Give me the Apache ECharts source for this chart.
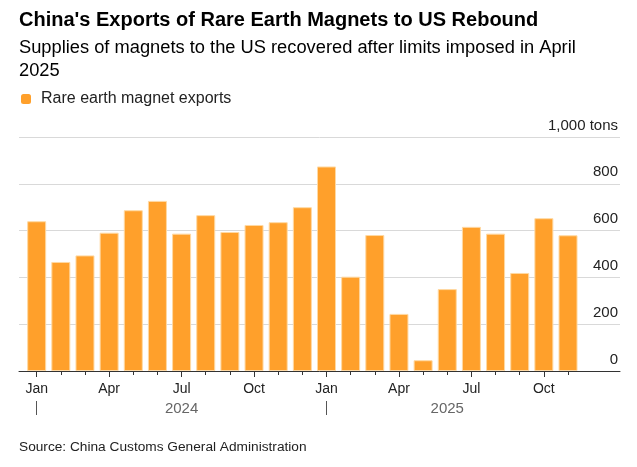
<!DOCTYPE html>
<html>
<head>
<meta charset="utf-8">
<style>
    html, body { margin: 0; padding: 0; background: #fff; }
    #chart { width: 637px; height: 467px; }
</style>
<script src="https://cdn.jsdelivr.net/npm/echarts@6/dist/echarts.min.js"></script>
</head>
<body>
<div id="chart"></div>
<script>
    // data (1,000 tons)
    var months = ['Jan', 'Feb', 'Mar', 'Apr', 'May', 'Jun', 'Jul', 'Aug', 'Sep', 'Oct', 'Nov', 'Dec',
        'Jan', 'Feb', 'Mar', 'Apr', 'May', 'Jun', 'Jul', 'Aug', 'Sep', 'Oct', 'Nov'];
    var years = ['2024', '2025'];
    var exports = [640, 466, 494, 591, 687, 727, 587, 666, 594, 624, 636, 700,
        874, 403, 581, 244, 46, 350, 616, 587, 419, 653, 580];
    var yTicks = [0, 200, 400, 600, 800, 1000];
    var yTickLabels = ['0', '200', '400', '600', '800', '1,000 tons'];

    var font = "'Liberation Sans', Arial, sans-serif";
    var chart = echarts.init(document.getElementById('chart'));

    var option = {
        animation: false,
        backgroundColor: '#fff',
        textStyle: {fontFamily: font},
        title: [{
            text: "China's Exports of Rare Earth Magnets to US Rebound",
            left: 14, top: 5,
            textStyle: {fontFamily: font, fontSize: 20, fontWeight: 'bold', color: '#000'}
        }, {
            text: 'Supplies of magnets to the US recovered after limits imposed in April\n2025',
            left: 14, top: 32,
            textStyle: {fontFamily: font, fontSize: 18.3, fontWeight: 'normal', color: '#000', lineHeight: 22.4}
        }, {
            text: 'Source: China Customs General Administration',
            left: 14, top: 435,
            textStyle: {fontFamily: font, fontSize: 13.7, fontWeight: 'normal', color: '#222'}
        }],
        legend: {
            left: 16, top: 86,
            icon: 'roundRect',
            itemWidth: 10, itemHeight: 10,
            itemStyle: {color: '#FFA02B', borderWidth: 0},
            textStyle: {fontFamily: font, fontSize: 16, color: '#222', padding: [0, 0, 0, 5]},
            data: ['Rare earth magnet exports']
        },
        grid: [
            {left: 19, right: 17, top: 137, bottom: 96},
            {left: 24.6, right: 56.9, top: 137, bottom: 96}
        ],
        xAxis: [{
            // baseline across full width
            gridIndex: 0, type: 'value', min: 0, max: 1, position: 'bottom',
            axisLine: {show: true, lineStyle: {color: '#333', width: 1}},
            axisTick: {show: false}, axisLabel: {show: false}, splitLine: {show: false}
        }, {
            // monthly ticks
            gridIndex: 1, type: 'category', data: months, position: 'bottom',
            axisLine: {show: false},
            axisTick: {show: true, alignWithLabel: true, interval: 0, length: 4, lineStyle: {color: '#333'}},
            axisLabel: {show: false}
        }, {
            // quarterly ticks + labels
            gridIndex: 1, type: 'category', data: months, position: 'bottom',
            axisLine: {show: false},
            axisTick: {show: true, alignWithLabel: true, length: 6, lineStyle: {color: '#333'},
                interval: function (i) { return i % 3 === 0; }},
            axisLabel: {show: true, margin: 11, fontSize: 14, color: '#222', fontFamily: font,
                interval: function (i) { return i % 3 === 0; }}
        }, {
            // year separators + year labels
            gridIndex: 1, type: 'category', data: months, position: 'bottom', offset: 30,
            axisLine: {show: false},
            axisTick: {show: true, alignWithLabel: true, length: 14, lineStyle: {color: '#555'},
                interval: function (i) { return i % 12 === 0; }},
            axisLabel: {show: true, margin: 0, fontSize: 15, color: '#666', fontFamily: font,
                interval: function (i) { return i === 6 || i === 17; },
                formatter: function (v, i) { return years[Math.floor(i / 12)]; }}
        }],
        yAxis: [{
            gridIndex: 0, type: 'value', position: 'right',
            min: yTicks[0], max: yTicks[yTicks.length - 1], interval: 200,
            axisLine: {show: false}, axisTick: {show: false},
            splitLine: {show: true, lineStyle: {color: '#d9d9d9', width: 1}},
            axisLabel: {
                inside: true, margin: 2, fontSize: 15, color: '#222', fontFamily: font,
                verticalAlign: 'bottom', padding: [0, 0, 4, 0],
                formatter: function (v) { return yTickLabels[yTicks.indexOf(v)]; }
            }
        }, {
            gridIndex: 1, type: 'value', min: 0, max: 1000, show: false
        }],
        series: [{
            name: 'Rare earth magnet exports',
            type: 'bar',
            xAxisIndex: 1, yAxisIndex: 1,
            barWidth: 19,
            data: exports,
            itemStyle: {color: '#FFA02B', borderColor: '#FFD9A3', borderWidth: 1}
        }]
    };
    option && chart.setOption(option);
</script>
</body>
</html>
